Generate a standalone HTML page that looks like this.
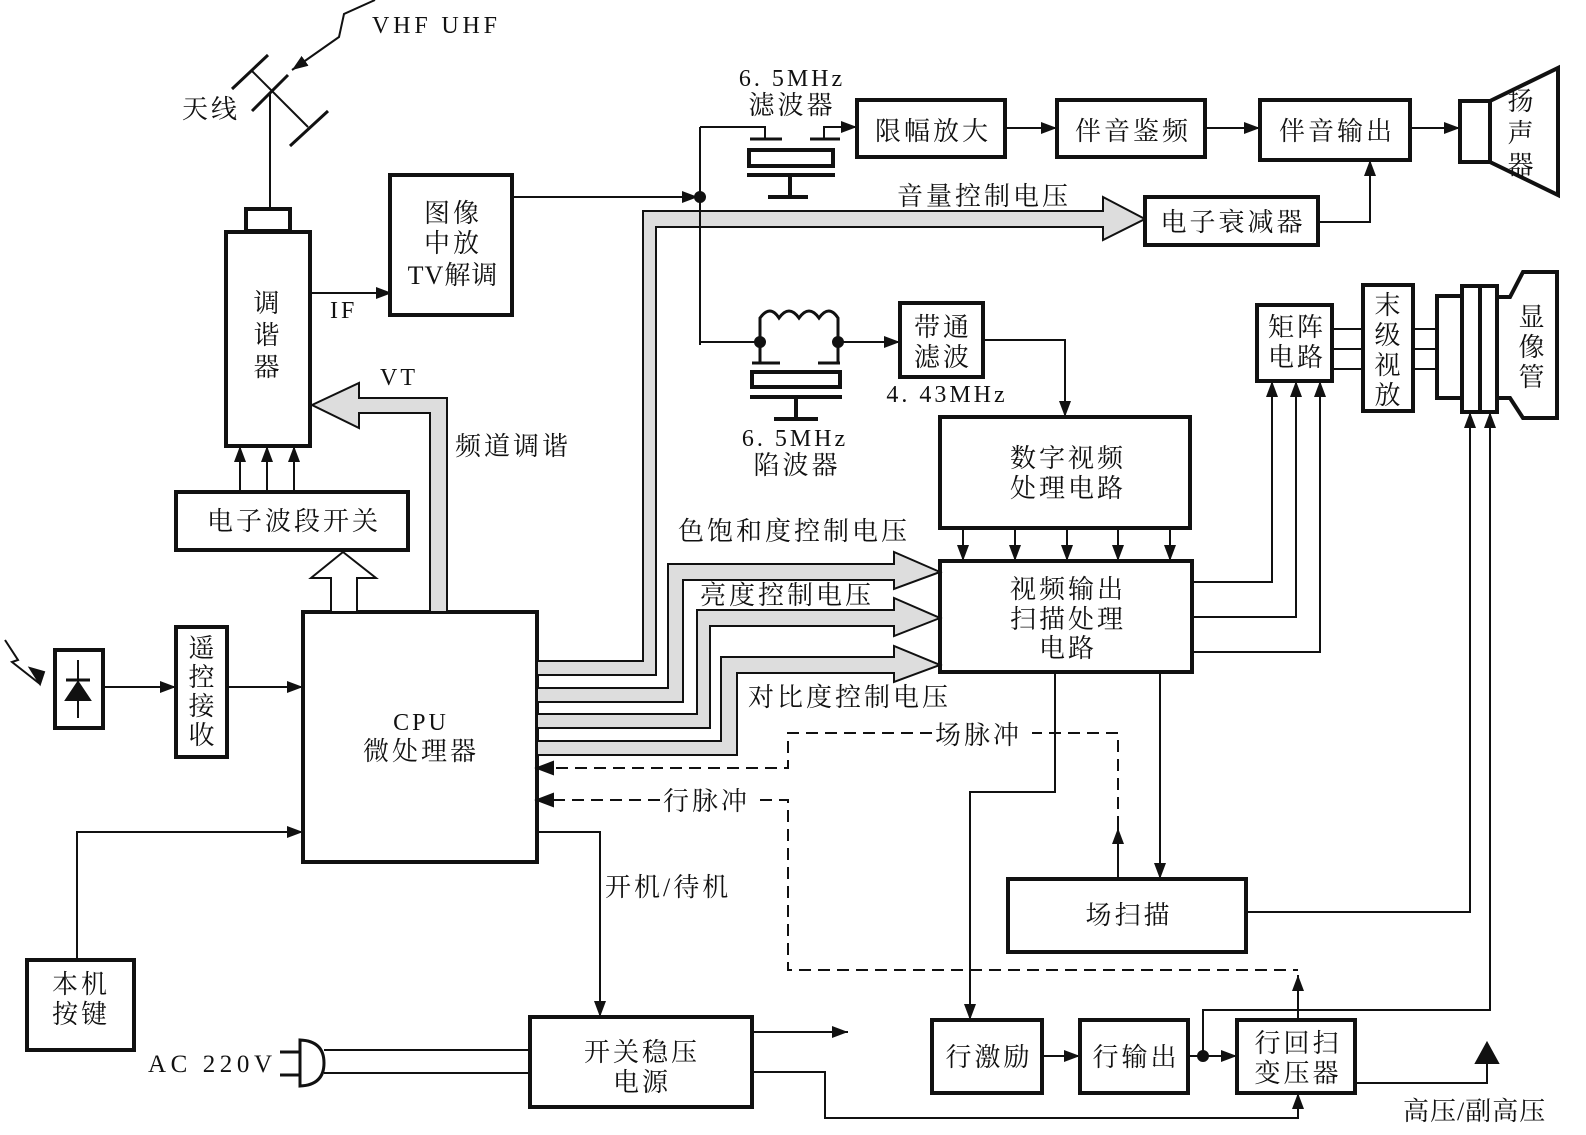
<!DOCTYPE html>
<html><head><meta charset="utf-8"><style>
html,body{margin:0;padding:0;background:#fff;}
svg{display:block;}
text{font-family:"Liberation Serif","Noto Serif CJK SC",serif;fill:#111;}
</style></head><body>
<svg width="1586" height="1135" viewBox="0 0 1586 1135" xmlns="http://www.w3.org/2000/svg">
<defs>
<marker id="a" markerUnits="userSpaceOnUse" markerWidth="16" markerHeight="12" refX="16" refY="6" orient="auto"><path d="M0,0 L16,6 L0,12 z" fill="#111"/></marker>
</defs>
<g stroke="#111" fill="none" stroke-width="2">
<line x1="252" y1="71" x2="308" y2="127"/>
<line x1="252" y1="111" x2="288" y2="75" stroke-width="3"/>
<line x1="232" y1="89" x2="268" y2="55" stroke-width="3"/>
<line x1="290" y1="146" x2="328" y2="111" stroke-width="3"/>
<line x1="270" y1="93" x2="270" y2="209"/>
<polyline points="375,0 344,14 339,37 292,70" marker-end="url(#a)"/>
<rect x="246" y="209" width="44" height="22" stroke-width="4"/>
<rect x="226" y="232" width="84" height="214" stroke-width="4"/>
<line x1="310" y1="293" x2="392" y2="293" marker-end="url(#a)"/>
<rect x="390" y="175" width="122" height="140" stroke-width="4"/>
<line x1="512" y1="197" x2="698" y2="197" marker-end="url(#a)"/>
<line x1="240" y1="492" x2="240" y2="446" marker-end="url(#a)"/>
<line x1="267" y1="492" x2="267" y2="446" marker-end="url(#a)"/>
<line x1="294" y1="492" x2="294" y2="446" marker-end="url(#a)"/>
<rect x="176" y="492" width="232" height="58" stroke-width="4"/>
<rect x="303" y="612" width="234" height="250" stroke-width="4"/>
<rect x="55" y="650" width="48" height="78" stroke-width="4"/>
<line x1="78" y1="660" x2="78" y2="718"/>
<path d="M66,700 L90,700 L78,682 z" fill="#111"/><line x1="66" y1="680" x2="90" y2="680" stroke-width="3"/>
<polyline points="5,640 18,660 12,662 40,684" />
<path d="M40,684 L30,668 L44,672 z" fill="#111"/>
<line x1="103" y1="687" x2="176" y2="687" marker-end="url(#a)"/>
<rect x="176" y="627" width="51" height="130" stroke-width="4"/>
<line x1="227" y1="687" x2="303" y2="687" marker-end="url(#a)"/>
<rect x="27" y="960" width="107" height="90" stroke-width="4"/>
<polyline points="77,960 77,832 303,832" marker-end="url(#a)"/>
<polyline points="537,832 600,832 600,1017" marker-end="url(#a)"/>
<rect x="530" y="1017" width="222" height="90" stroke-width="4"/>
<line x1="280" y1="1052" x2="300" y2="1052" stroke-width="3"/>
<line x1="280" y1="1075" x2="300" y2="1075" stroke-width="3"/>
<path d="M300,1040 Q324,1041 324,1063 Q324,1085 300,1086 z" stroke-width="3"/>
<line x1="324" y1="1050" x2="530" y2="1050"/>
<line x1="324" y1="1073" x2="530" y2="1073"/>
<line x1="752" y1="1032" x2="848" y2="1032" marker-end="url(#a)"/>
<polyline points="752,1072 825,1072 825,1118 1298,1118 1298,1093" marker-end="url(#a)"/>
<polygon points="430,612 430,413 359,413 359,428 312,405 359,383 359,398 447,398 447,612" fill="#ddd"/>
<polygon points="331,612 331,578 311,578 343,552 376,578 357,578 357,612" fill="#fff"/>
<polygon points="537,661 643,661 643,211 1103,211 1103,197 1145,219 1103,240 1103,227 656,227 656,675 537,675" fill="#ddd"/>
<polygon points="537,688 668,688 668,564 894,564 894,552 940,572 894,589 894,580 683,580 683,702 537,702" fill="#ddd"/>
<polygon points="537,714 697,714 697,610 894,610 894,598 940,618 894,636 894,626 710,626 710,728 537,728" fill="#ddd"/>
<polygon points="537,741 721,741 721,657 894,657 894,646 940,665 894,682 894,673 737,673 737,755 537,755" fill="#ddd"/>
<circle cx="700" cy="197" r="5" fill="#111"/>
<line x1="700" y1="127" x2="700" y2="345"/>
<polyline points="700,127 765,127 765,139"/>
<line x1="750" y1="139" x2="782" y2="139" stroke-width="3"/>
<line x1="810" y1="139" x2="840" y2="139" stroke-width="3"/>
<polyline points="824,139 824,127 857,127" marker-end="url(#a)"/>
<rect x="749" y="150" width="84" height="16" stroke-width="4"/>
<line x1="747" y1="175" x2="835" y2="175" stroke-width="4"/>
<line x1="790" y1="175" x2="790" y2="197" stroke-width="4"/>
<line x1="768" y1="197" x2="808" y2="197" stroke-width="4"/>
<rect x="857" y="100" width="148" height="57" stroke-width="4"/>
<line x1="1005" y1="128" x2="1057" y2="128" marker-end="url(#a)"/>
<rect x="1057" y="100" width="148" height="57" stroke-width="4"/>
<line x1="1205" y1="128" x2="1260" y2="128" marker-end="url(#a)"/>
<rect x="1260" y="100" width="150" height="60" stroke-width="4"/>
<line x1="1410" y1="128" x2="1460" y2="128" marker-end="url(#a)"/>
<rect x="1460" y="101" width="30" height="61" stroke-width="4"/>
<polygon points="1490,101 1558,68 1558,195 1490,162" stroke-width="4"/>
<rect x="1145" y="197" width="173" height="48" stroke-width="4"/>
<polyline points="1318,222 1370,222 1370,160" marker-end="url(#a)"/>
<line x1="700" y1="342" x2="760" y2="342"/>
<circle cx="760" cy="342" r="5" fill="#111"/><circle cx="838" cy="342" r="5" fill="#111"/>
<path d="M760,342 L760,318 Q770,304 779,318 Q789,304 799,318 Q809,304 819,318 Q829,304 838,318 L838,342" stroke-width="3"/>
<polyline points="760,342 760,363" stroke-width="3"/><line x1="752" y1="363" x2="780" y2="363" stroke-width="3"/>
<polyline points="838,342 838,363" stroke-width="3"/><line x1="818" y1="363" x2="840" y2="363" stroke-width="3"/>
<rect x="752" y="372" width="88" height="15" stroke-width="4"/>
<line x1="750" y1="397" x2="842" y2="397" stroke-width="4"/>
<line x1="796" y1="397" x2="796" y2="419" stroke-width="4"/>
<line x1="774" y1="419" x2="818" y2="419" stroke-width="4"/>
<line x1="838" y1="342" x2="900" y2="342" marker-end="url(#a)"/>
<rect x="900" y="303" width="83" height="74" stroke-width="4"/>
<polyline points="983,340 1065,340 1065,417" marker-end="url(#a)"/>
<rect x="940" y="417" width="250" height="111" stroke-width="4"/>
<line x1="963" y1="528" x2="963" y2="561" marker-end="url(#a)"/>
<line x1="1015" y1="528" x2="1015" y2="561" marker-end="url(#a)"/>
<line x1="1067" y1="528" x2="1067" y2="561" marker-end="url(#a)"/>
<line x1="1118" y1="528" x2="1118" y2="561" marker-end="url(#a)"/>
<line x1="1170" y1="528" x2="1170" y2="561" marker-end="url(#a)"/>
<rect x="940" y="561" width="252" height="111" stroke-width="4"/>
<polyline points="1192,582 1272,582 1272,381" marker-end="url(#a)"/>
<polyline points="1192,617 1296,617 1296,381" marker-end="url(#a)"/>
<polyline points="1192,652 1320,652 1320,381" marker-end="url(#a)"/>
<rect x="1257" y="305" width="75" height="76" stroke-width="4"/>
<line x1="1332" y1="329" x2="1363" y2="329"/><line x1="1332" y1="349" x2="1363" y2="349"/><line x1="1332" y1="369" x2="1363" y2="369"/>
<rect x="1363" y="285" width="50" height="126" stroke-width="4"/>
<line x1="1413" y1="329" x2="1437" y2="329"/><line x1="1413" y1="349" x2="1437" y2="349"/><line x1="1413" y1="369" x2="1437" y2="369"/>
<rect x="1437" y="296" width="25" height="102" stroke-width="4"/>
<rect x="1462" y="286" width="18" height="126" stroke-width="4"/>
<rect x="1480" y="286" width="17" height="126" stroke-width="4"/>
<polyline points="1497,297 1510,297 1523,272 1557,272 1557,418 1523,418 1510,398 1497,398" stroke-width="4"/>
<polyline points="1055,672 1055,792 970,792 970,1020" marker-end="url(#a)"/>
<line x1="1160" y1="672" x2="1160" y2="879" marker-end="url(#a)"/>
<line x1="1118" y1="879" x2="1118" y2="828" marker-end="url(#a)"/>
<rect x="1008" y="879" width="238" height="73" stroke-width="4"/>
<polyline points="1246,912 1470,912 1470,412" marker-end="url(#a)"/>
<rect x="932" y="1020" width="110" height="73" stroke-width="4"/>
<line x1="1042" y1="1056" x2="1080" y2="1056" marker-end="url(#a)"/>
<rect x="1080" y="1020" width="108" height="73" stroke-width="4"/>
<line x1="1188" y1="1056" x2="1237" y2="1056" marker-end="url(#a)"/>
<circle cx="1203" cy="1056" r="5" fill="#111"/>
<polyline points="1203,1056 1203,1010 1490,1010 1490,412" marker-end="url(#a)"/>
<rect x="1237" y="1020" width="118" height="73" stroke-width="4"/>
<line x1="1298" y1="1020" x2="1298" y2="975" marker-end="url(#a)"/>
<polyline points="1355,1083 1487,1083 1487,1060"/>
<path d="M1476,1063 L1487,1043 L1498,1063 z" fill="#111"/>
<g stroke-dasharray="12,7">
<polyline points="1118,828 1118,733 1032,733"/>
<polyline points="932,733 788,733 788,768 552,768"/>
<polyline points="760,800 788,800 788,970 1298,970"/>
<polyline points="660,800 552,800"/>
</g>
<path d="M537,768 L553,762 L553,774 z" fill="#111"/>
<path d="M537,800 L553,794 L553,806 z" fill="#111"/>
</g>
<g font-size="26" letter-spacing="3">
<text x="372" y="33" font-size="24" textLength="128">VHF  UHF</text>
<text x="182" y="118">天线</text>
<text x="268" y="312" text-anchor="middle">调</text>
<text x="268" y="344" text-anchor="middle">谐</text>
<text x="268" y="376" text-anchor="middle">器</text>
<text x="330" y="318" font-size="24">IF</text>
<text x="453" y="222" text-anchor="middle">图像</text>
<text x="453" y="252" text-anchor="middle">中放</text>
<text x="453" y="284" text-anchor="middle" letter-spacing="1">TV解调</text>
<text x="380" y="385" font-size="24">VT</text>
<text x="455" y="455">频道调谐</text>
<text x="294" y="530" text-anchor="middle">电子波段开关</text>
<text x="203" y="657" text-anchor="middle">遥</text>
<text x="203" y="686" text-anchor="middle">控</text>
<text x="203" y="715" text-anchor="middle">接</text>
<text x="203" y="744" text-anchor="middle">收</text>
<text x="421" y="730" text-anchor="middle" font-size="24">CPU</text>
<text x="421" y="760" text-anchor="middle">微处理器</text>
<text x="81" y="993" text-anchor="middle">本机</text>
<text x="81" y="1023" text-anchor="middle">按键</text>
<text x="148" y="1072" font-size="25" textLength="127">AC 220V</text>
<text x="642" y="1061" text-anchor="middle">开关稳压</text>
<text x="642" y="1091" text-anchor="middle">电源</text>
<text x="605" y="896">开机/待机</text>
<text x="663" y="810">行脉冲</text>
<text x="935" y="744">场脉冲</text>
<text x="748" y="706">对比度控制电压</text>
<text x="700" y="604">亮度控制电压</text>
<text x="678" y="540">色饱和度控制电压</text>
<text x="897" y="205">音量控制电压</text>
<text x="792" y="86" text-anchor="middle" font-size="24">6. 5MHz</text>
<text x="792" y="114" text-anchor="middle">滤波器</text>
<text x="933" y="140" text-anchor="middle">限幅放大</text>
<text x="1133" y="140" text-anchor="middle">伴音鉴频</text>
<text x="1337" y="140" text-anchor="middle">伴音输出</text>
<text x="1522" y="110" text-anchor="middle">扬</text>
<text x="1522" y="142" text-anchor="middle">声</text>
<text x="1522" y="174" text-anchor="middle">器</text>
<text x="1233" y="231" text-anchor="middle">电子衰减器</text>
<text x="943" y="336" text-anchor="middle">带通</text>
<text x="943" y="366" text-anchor="middle">滤波</text>
<text x="947" y="402" text-anchor="middle" font-size="24">4. 43MHz</text>
<text x="795" y="446" text-anchor="middle" font-size="24">6. 5MHz</text>
<text x="797" y="474" text-anchor="middle">陷波器</text>
<text x="1068" y="467" text-anchor="middle">数字视频</text>
<text x="1068" y="497" text-anchor="middle">处理电路</text>
<text x="1068" y="598" text-anchor="middle">视频输出</text>
<text x="1068" y="628" text-anchor="middle">扫描处理</text>
<text x="1068" y="657" text-anchor="middle">电路</text>
<text x="1297" y="336" text-anchor="middle">矩阵</text>
<text x="1297" y="366" text-anchor="middle">电路</text>
<text x="1389" y="314" text-anchor="middle">末</text>
<text x="1389" y="344" text-anchor="middle">级</text>
<text x="1389" y="374" text-anchor="middle">视</text>
<text x="1389" y="404" text-anchor="middle">放</text>
<text x="1533" y="326" text-anchor="middle">显</text>
<text x="1533" y="356" text-anchor="middle">像</text>
<text x="1533" y="386" text-anchor="middle">管</text>
<text x="1129" y="924" text-anchor="middle">场扫描</text>
<text x="989" y="1066" text-anchor="middle">行激励</text>
<text x="1136" y="1066" text-anchor="middle">行输出</text>
<text x="1298" y="1052" text-anchor="middle">行回扫</text>
<text x="1298" y="1082" text-anchor="middle">变压器</text>
<text x="1403" y="1120" letter-spacing="1">高压/副高压</text>
</g>
</svg>
</body></html>
